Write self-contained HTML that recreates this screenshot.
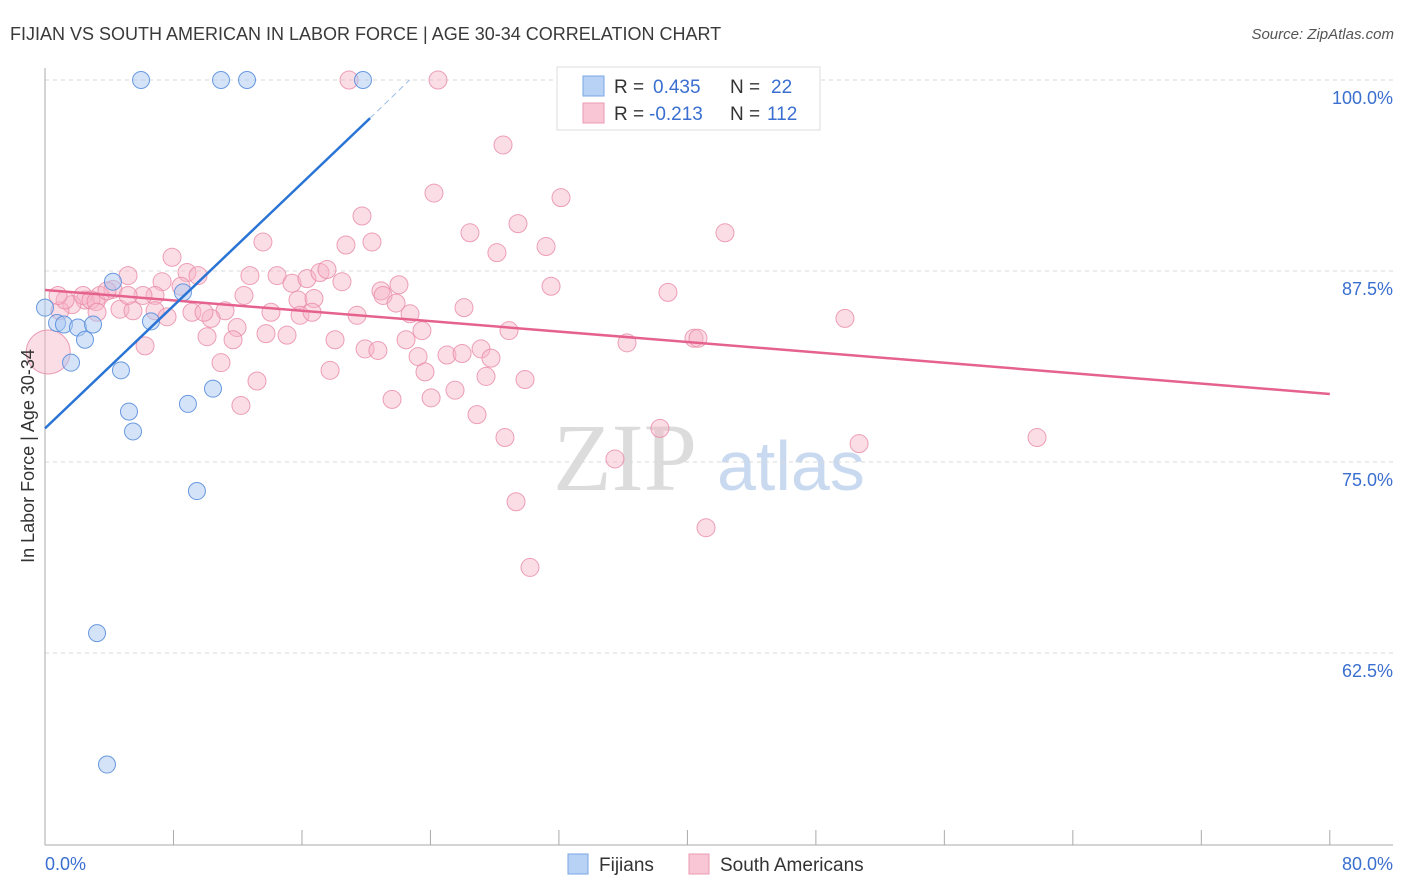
<!DOCTYPE html>
<html><head><meta charset="utf-8"><style>
body{margin:0;background:#fff;font-family:"Liberation Sans",sans-serif;}
svg{display:block}
</style></head><body>
<svg id="chart" width="1406" height="892" xmlns="http://www.w3.org/2000/svg">
<text x="10" y="40" font-size="18" fill="#3a3a3a">FIJIAN VS SOUTH AMERICAN IN LABOR FORCE | AGE 30-34 CORRELATION CHART</text>
<text x="1394" y="39" font-size="15" fill="#555" font-style="italic" text-anchor="end">Source: ZipAtlas.com</text>
<g>
<text x="553" y="490" font-size="96" font-family="Liberation Serif,serif" fill="#dcdcdc">ZIP</text>
<text x="717" y="490" font-size="70" fill="#c9daf0">atlas</text>
</g>
<g id="grid"></g>
<g id="axes"></g>
<g id="marks"></g>
<text transform="translate(34,456) rotate(-90)" font-size="18" fill="#333" text-anchor="middle">In Labor Force | Age 30-34</text>
<text x="45" y="870" font-size="18" fill="#3a6fd0">0.0%</text>
<text x="1393" y="870" font-size="18" fill="#3a6fd0" text-anchor="end">80.0%</text>
<g>
<rect x="557" y="67" width="263" height="63" fill="#fff" stroke="#ddd"/>
<rect x="583" y="76" width="21" height="20" fill="#b8d2f5" stroke="#7aa6e6"/>
<rect x="583" y="103" width="21" height="20" fill="#f9c6d5" stroke="#eb9ab2"/>
<text x="614" y="93" font-size="19" fill="#333">R = </text><text x="653" y="93" font-size="19" fill="#3a6fd0">0.435</text>
<text x="730" y="93" font-size="19" fill="#333">N = </text><text x="771" y="93" font-size="19" fill="#3a6fd0">22</text>
<text x="614" y="120" font-size="19" fill="#333">R = </text><text x="649" y="120" font-size="19" fill="#3a6fd0">-0.213</text>
<text x="730" y="120" font-size="19" fill="#333">N = </text><text x="767" y="120" font-size="19" fill="#3a6fd0">112</text>
</g>
<g>
<rect x="568" y="854" width="20" height="20" fill="#b8d2f5" stroke="#7aa6e6"/>
<text x="599" y="871" font-size="19" fill="#333">Fijians</text>
<rect x="689" y="854" width="20" height="20" fill="#f9c6d5" stroke="#eb9ab2"/>
<text x="720" y="871" font-size="19" fill="#333">South Americans</text>
</g>
</svg>
<script>
const yTicks=[100,87.5,75,62.5];
const yTickLabels=["100.0%","87.5%","75.0%","62.5%"];
const xTickVals=[0,8,16,24,32,40,48,56,64,72,80];
const fijX=[5.98,10.96,12.58,19.8,0,0.75,1.18,2.05,2.49,2.99,1.62,4.73,4.23,6.6,8.59,5.23,5.48,8.9,10.46,9.46,3.24,3.86];
const fijY=[100,100,100,100,85.1,84.1,84.0,83.8,83.0,84.0,81.5,81.0,86.8,84.2,86.1,78.3,77.0,78.8,79.8,73.1,63.8,55.2];
const saX=[18.93,24.47,32.63,28.52,24.22,32.13,19.74,29.45,26.46,13.57,18.74,20.36,31.2,42.34,28.14,7.91,5.17,7.29,8.84,9.53,12.76,14.45,15.38,16.31,17.12,17.56,18.49,22.04,20.92,21.05,21.86,31.51,38.79,12.39,11.21,10.34,8.47,9.15,9.9,6.85,6.1,4.23,3.42,2.49,1.68,0.93,1.25,2.37,2.86,4.67,5.48,6.85,7.6,6.23,10.09,11.96,11.71,10.96,13.2,12.2,13.76,15.07,14.07,15.75,15.88,16.75,16.63,18.06,19.43,19.93,20.73,17.75,22.48,22.73,23.47,23.23,21.61,23.66,24.04,25.03,25.53,25.97,26.09,27.15,27.46,27.77,26.9,28.64,29.33,29.89,30.2,28.89,36.24,40.41,40.66,38.29,35.49,41.16,50.69,49.81,61.77,0.2,3.18,3.86,3.24,0.81,5.17];
const saY=[100,100,100,95.75,92.6,92.3,91.1,90.6,90.0,89.4,89.2,89.4,89.1,90.0,88.7,88.4,87.2,86.8,87.4,87.2,87.2,87.2,86.7,87.0,87.4,87.6,86.8,86.6,86.2,85.9,85.4,86.5,86.1,85.9,84.9,84.4,86.5,84.8,84.8,85.9,85.9,86.3,85.9,85.6,85.3,84.9,85.6,85.9,85.6,85.0,84.9,84.9,84.5,82.6,83.2,83.8,83.0,81.5,80.3,78.7,83.4,83.3,84.8,85.6,84.6,85.7,84.8,83.0,84.6,82.4,82.3,81.0,83.0,84.7,83.6,81.9,79.1,80.9,79.2,82.0,79.7,82.1,85.1,82.4,80.6,81.8,78.1,76.6,72.4,80.4,68.1,83.6,82.8,83.1,83.1,77.2,75.2,70.7,76.2,84.4,76.6,82.2,85.5,86.2,84.8,85.9,85.9];
const fijTrend=[77.2,97.5,100];const fijTrendX=[0,20.24,22.7];
const saTrend=[86.26,79.45];const saTrendX=[0,80];
const NS="http://www.w3.org/2000/svg";
const X=v=>45+v*16.06, Y=v=>80+(100-v)*15.28;
function mk(tag,attrs,parent){const e=document.createElementNS(NS,tag);for(const k in attrs)e.setAttribute(k,attrs[k]);parent.appendChild(e);return e;}
const grid=document.getElementById('grid'),axes=document.getElementById('axes'),marks=document.getElementById('marks');
yTicks.forEach((t,i)=>{
 const l=mk('line',{x1:45,x2:1393,y1:Y(t),y2:Y(t),stroke:'#d8d8d8','stroke-dasharray':'4,4'},grid);
 
 
 const tx=mk('text',{x:1393,y:Y(t)+24,'font-size':18,fill:'#3a6fd0','text-anchor':'end'},grid);
 tx.textContent=yTickLabels[i];
 
 
});
let a=mk('line',{x1:45,x2:45,y1:68,y2:845,stroke:'#aaa'},axes);


a=mk('line',{x1:45,x2:1393,y1:845,y2:845,stroke:'#aaa'},axes);


xTickVals.forEach(t=>{
 const l=mk('line',{x1:X(t),x2:X(t),y1:830,y2:845,stroke:'#aaa'},axes);
 
 
});
saX.forEach((x,i)=>{
 const big=(i===saX.length-6);
 const c=mk('circle',{cx:X(x),cy:Y(saY[i]),r:big?22:9,fill:'#f6b3c7','fill-opacity':0.45,stroke:'#e88aa8','stroke-opacity':0.8},marks);
 
 
});
fijX.forEach((x,i)=>{
 const c=mk('circle',{cx:X(x),cy:Y(fijY[i]),r:8.5,fill:'#a9c8f2','fill-opacity':0.5,stroke:'#5a8fdc','stroke-opacity':0.9},marks);
 
 
});
let t=mk('line',{x1:X(saTrendX[0]),y1:Y(saTrend[0]),x2:X(saTrendX[1]),y2:Y(saTrend[1]),stroke:'#e5628f','stroke-width':2.5},marks);


t=mk('line',{x1:X(fijTrendX[0]),y1:Y(fijTrend[0]),x2:X(fijTrendX[1]),y2:Y(fijTrend[1]),stroke:'#2a74d6','stroke-width':2.5},marks);


t=mk('line',{x1:X(fijTrendX[1]),y1:Y(fijTrend[1]),x2:X(fijTrendX[2]),y2:Y(fijTrend[2]),stroke:'#9bbbe8','stroke-width':1,'stroke-dasharray':'6,4'},marks);


</script>
</body></html>
